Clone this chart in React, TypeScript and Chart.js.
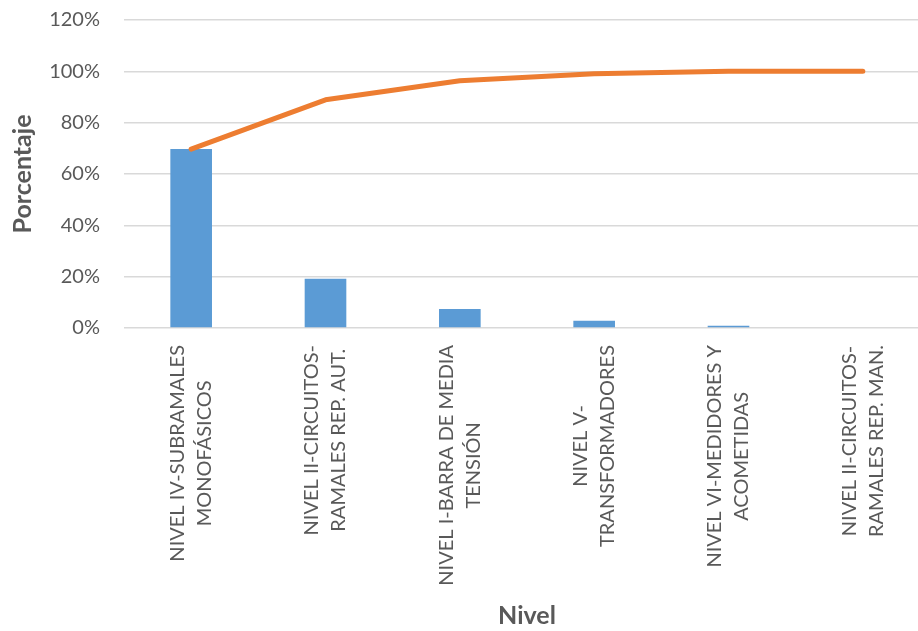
import React, { useEffect, useRef } from "react";
import { Chart, registerables } from "chart.js";

Chart.register(...registerables);

// Categories (each label split into its two printed lines)
const categories: string[][] = [
  ["NIVEL IV-SUBRAMALES", "MONOFÁSICOS"],
  ["NIVEL II-CIRCUITOS-", "RAMALES REP. AUT."],
  ["NIVEL I-BARRA DE MEDIA", "TENSIÓN"],
  ["NIVEL V-", "TRANSFORMADORES"],
  ["NIVEL VI-MEDIDORES Y", "ACOMETIDAS"],
  ["NIVEL II-CIRCUITOS-", "RAMALES REP. MAN."],
];

// Share of each level (%)
const shareValues: number[] = [69.7, 19.2, 7.4, 2.8, 0.9, 0];

// Cumulative share (%)
const cumulativeValues: number[] = [69.7, 88.9, 96.3, 99.1, 100, 100];

// Y axis ticks (%)
const yTicks: number[] = [0, 20, 40, 60, 80, 100, 120];

const W = 940;
const H = 631;
const TEXT = "#595959";
const FONT = "Lato, 'Open Sans', sans-serif";

// Draws the vertical, centred, two-line category labels under each bar
const categoryLabels = {
  id: "categoryLabels",
  afterDraw(chart: any) {
    const x = chart.scales.x;
    const ctx = chart.ctx as CanvasRenderingContext2D;
    const top = chart.chartArea.bottom + 17;
    const lineH = 27;
    ctx.save();
    ctx.font = `20px ${FONT}`;
    ctx.fillStyle = TEXT;
    ctx.textAlign = "center";
    ctx.textBaseline = "middle";
    categories.forEach((lines, i) => {
      const px = x.getPixelForTick(i);
      const maxW = Math.max(...lines.map((l) => ctx.measureText(l).width));
      ctx.save();
      ctx.translate(px, top);
      ctx.rotate(-Math.PI / 2);
      lines.forEach((line, k) => {
        const v = (k - (lines.length - 1) / 2) * lineH;
        ctx.fillText(line, -maxW / 2, v);
      });
      ctx.restore();
    });
    ctx.restore();
  },
};

export default function App() {
  const canvasRef = useRef<HTMLCanvasElement | null>(null);

  useEffect(() => {
    if (!canvasRef.current) return;
    const chart = new Chart(canvasRef.current, {
      type: "bar",
      data: {
        labels: categories.map((c) => c.join(" ")),
        datasets: [
          {
            type: "line",
            label: "Acumulado",
            data: cumulativeValues,
            borderColor: "#ED7D31",
            backgroundColor: "#ED7D31",
            borderWidth: 5,
            pointRadius: 0,
            tension: 0,
            borderCapStyle: "round",
            borderJoinStyle: "round",
            order: 0,
          } as any,
          {
            type: "bar",
            label: "Porcentaje",
            data: shareValues,
            backgroundColor: "#5B9BD5",
            borderWidth: 0,
            categoryPercentage: 0.31,
            barPercentage: 1,
            order: 1,
          },
        ],
      },
      options: {
        responsive: false,
        animation: false,
        devicePixelRatio: 1,
        layout: { padding: { top: 20, right: 10, bottom: 0, left: 0 } },
        plugins: {
          legend: { display: false },
          tooltip: { enabled: false },
        },
        scales: {
          x: {
            grid: { display: false, drawTicks: false },
            border: { display: false },
            ticks: { display: false },
            title: {
              display: true,
              text: "Nivel",
              color: TEXT,
              font: { family: FONT, size: 25, weight: "bold" },
              padding: { top: 0, bottom: 0 },
            },
            afterFit(scale: any) {
              scale.height = H - 328;
            },
          },
          y: {
            min: 0,
            max: 120,
            afterBuildTicks(scale: any) {
              scale.ticks = yTicks.map((v) => ({ value: v }));
            },
            grid: { color: "#d9d9d9", lineWidth: 1.5, drawTicks: false },
            border: { display: false },
            ticks: {
              color: TEXT,
              font: { family: FONT, size: 20 },
              padding: 24,
              callback: (v: any) => `${v}%`,
            },
            title: {
              display: true,
              text: "Porcentaje",
              color: TEXT,
              font: { family: FONT, size: 25, weight: "bold" },
              padding: { top: 8, bottom: 0 },
            },
            afterFit(scale: any) {
              scale.width = 124;
              scale.paddingTop = 0;
              scale.paddingBottom = 0;
            },
          },
        },
      },
      plugins: [categoryLabels],
    });
    return () => chart.destroy();
  }, []);

  return (
    <div
      style={{
        position: "fixed",
        left: 0,
        top: 0,
        width: 918,
        height: 631,
        overflow: "hidden",
        background: "#ffffff",
      }}
    >
      <canvas
        ref={canvasRef}
        width={W}
        height={H}
        style={{ width: W, height: H, display: "block" }}
      />
    </div>
  );
}
